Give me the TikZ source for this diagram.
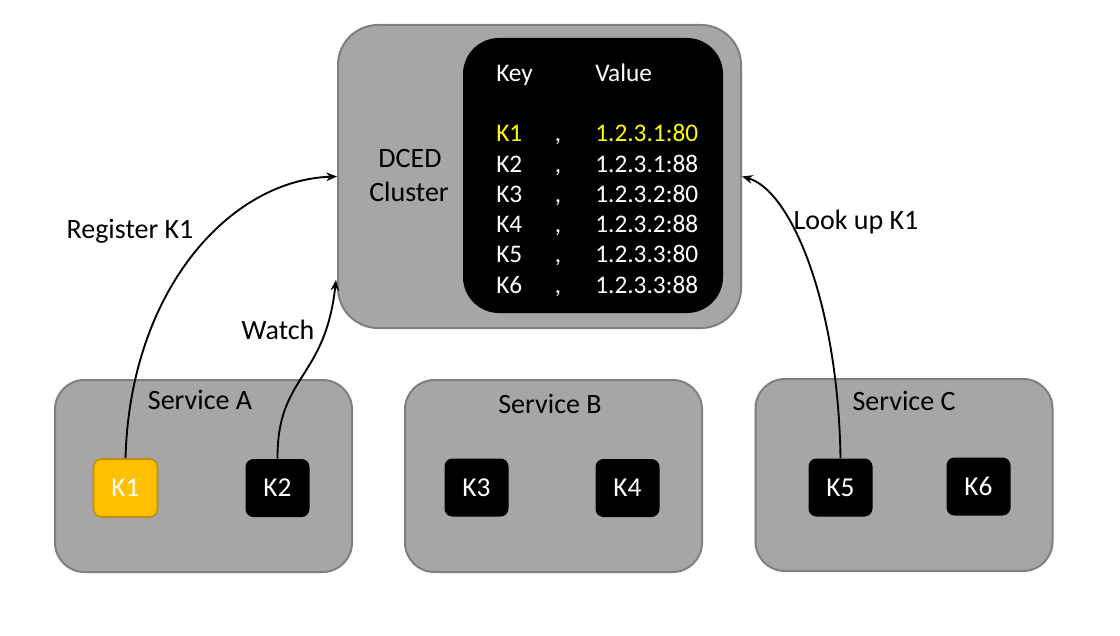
\documentclass[tikz,border=0pt]{standalone}
\usepackage{fontspec}
\setmainfont{Carlito}
\usetikzlibrary{arrows.meta}
\definecolor{boxgray}{HTML}{A6A6A6}
\definecolor{edgegray}{HTML}{7F7F7F}
\definecolor{keyorange}{HTML}{FFC000}
\definecolor{keyorangedark}{HTML}{BF9000}
\definecolor{tableyellow}{HTML}{FFFF00}

\begin{document}
\begin{tikzpicture}[x=0.75pt, y=-0.75pt]
\useasboundingbox (0,0) rectangle (1120,635);

\tikzset{TextStyle/.style = {
 inner sep = 0pt,
 text height = 13.3pt,
 text depth = 0pt,
 font = \fontsize{21}{25}\selectfont} }
\tikzset{CellStyle/.style = {
 TextStyle,
 anchor = west,
 text = white,
 text height = 12pt,
 font = \fontsize{19}{23}\selectfont} }
\tikzset{ServiceStyle/.style = {
 draw = edgegray,
 line width = 1.5pt,
 fill = boxgray,
 rounded corners = 22pt,
 minimum width = 222.75pt,
 minimum height = 144pt} }
\tikzset{KeyStyle/.style = {
 fill = black,
 text = white,
 rounded corners = 6pt,
 minimum width = 48pt,
 minimum height = 43.5pt,
 font = \fontsize{20.5}{24}\selectfont} }

\node[ServiceStyle, minimum width = 302.25pt, minimum height = 227.25pt, rounded corners = 30pt] (DCED) at (539.5, 176.5) {};
\node[fill = black, rounded corners = 27pt, minimum width = 195pt, minimum height = 206.25pt] (Table) at (593, 175.5) {};
\node[TextStyle] (DCEDLabel) at (410, 159) {DCED};
\node[TextStyle] (ClusterLabel) at (409, 193) {Cluster};

\node[CellStyle] (KeyHead) at (496, 73) {Key};
\node[CellStyle] (ValueHead) at (595, 74) {Value};
\node[CellStyle, text = tableyellow] (R1_K) at (496, 133) {K1};
\node[CellStyle, text = tableyellow] (R1_V) at (595, 133) {1.2.3.1:80};
\node[CellStyle] (R2_K) at (496, 164) {K2};
\node[CellStyle] (R2_V) at (595, 164) {1.2.3.1:88};
\node[CellStyle] (R3_K) at (496, 194) {K3};
\node[CellStyle] (R3_V) at (595, 194) {1.2.3.2:80};
\node[CellStyle] (R4_K) at (496, 224) {K4};
\node[CellStyle] (R4_V) at (595, 224) {1.2.3.2:88};
\node[CellStyle] (R5_K) at (496, 254) {K5};
\node[CellStyle] (R5_V) at (595, 254) {1.2.3.3:80};
\node[CellStyle] (R6_K) at (496, 285) {K6};
\node[CellStyle] (R6_V) at (595, 285) {1.2.3.3:88};
\foreach \y [count=\i] in {133, 164, 194, 224, 254, 285}
  \node[CellStyle, anchor = center] (R\i_C) at (558, \y) {,};

\node[ServiceStyle] (SvcA) at (203.5, 476) {};
\node[ServiceStyle] (SvcB) at (553.5, 476) {};
\node[ServiceStyle] (SvcC) at (904, 475) {};
\node[TextStyle] (SvcA_L) at (200, 401) {Service A};
\node[TextStyle] (SvcB_L) at (550, 405) {Service B};
\node[TextStyle] (SvcC_L) at (904, 402) {Service C};

\node[KeyStyle, fill = keyorange, draw = keyorangedark, line width = 1.2pt] (K1) at (125.5, 488) {K1};
\node[KeyStyle] (K2) at (277.5, 488) {K2};
\node[KeyStyle] (K3) at (476.5, 487.5) {K3};
\node[KeyStyle] (K4) at (627.5, 488) {K4};
\node[KeyStyle] (K5) at (840.5, 487.5) {K5};
\node[KeyStyle] (K6) at (978.5, 486.5) {K6};

\coordinate (WatchTip) at (336, 280);

\tikzset{EdgeStyle/.style = {
 line width = 1.4pt,
 -{Stealth[length = 8pt, width = 6.5pt]}} }

\draw[EdgeStyle] (K1.north) .. controls (130, 290) and (230, 180) .. (DCED.west);
\draw[EdgeStyle] (K2.north) .. controls (277, 375) and (325, 380) .. (WatchTip);
\draw[EdgeStyle] (K5.north) .. controls (838, 300) and (790, 190) .. (DCED.east);

\node[TextStyle] (RegLabel) at (130, 230) {Register K1};
\node[TextStyle] (WatchLabel) at (278, 331) {Watch};
\node[TextStyle] (LookLabel) at (856, 221) {Look up K1};

\end{tikzpicture}
\end{document}
